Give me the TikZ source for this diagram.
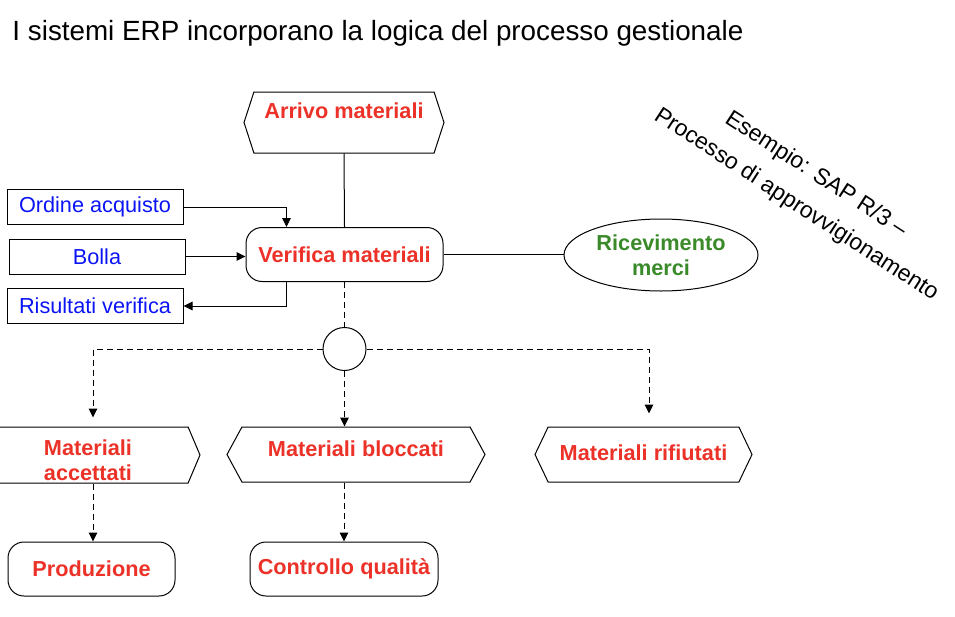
\documentclass[tikz,border=0pt]{standalone}
\usepackage{fontspec}
\setmainfont{Liberation Sans}
\usetikzlibrary{shapes.symbols,shapes.geometric,arrows.meta,positioning}
\tikzset{>={Triangle[length=9pt,width=8.5pt]}}
\definecolor{rosso}{RGB}{236,50,40}
\definecolor{verde}{RGB}{58,138,42}
\definecolor{blu}{RGB}{10,20,245}

\begin{document}
\begin{tikzpicture}[x=1pt,y=-1pt,line width=1pt,
  every node/.style={font=\fontsize{21.7}{25}\selectfont},
  esagono/.style={draw,signal,signal to=west and east,signal pointer angle=#1,inner sep=0pt},
  esagono/.default=135,
  testo/.style={text=rosso,font=\fontsize{21.7}{25}\bfseries,align=center,inner sep=0pt,anchor=north},
  doc/.style={draw,text=blu,minimum width=176pt,minimum height=35pt,inner sep=0pt},
  passo/.style={draw,rounded corners=16pt,text=rosso,font=\fontsize{21.7}{25}\bfseries,inner sep=0pt,minimum height=54pt},
  tratteggio/.style={dash pattern=on 6pt off 4pt}]
\useasboundingbox (0,0) rectangle (955,616);
\clip (0,0) rectangle (955,616);

\node[anchor=base west,font=\fontsize{27.8}{32}\selectfont,inner sep=0pt] (titolo) at (12,40)
  {I sistemi ERP incorporano la logica del processo gestionale};

% eventi (esagoni)
\node[esagono=144,minimum width=200pt,minimum height=61pt,
  label={[testo,yshift=-10.5pt]north:Arrivo materiali}] (arrivo) at (344,122.5) {};
\node[esagono=134,minimum width=224pt,minimum height=56pt,
  label={[testo,yshift=-13pt]north:Materiali\\accettati}] (accettati) at (88,455) {};
\node[esagono=123,minimum width=258pt,minimum height=55pt,
  label={[testo,yshift=-13.5pt]north:Materiali bloccati}] (bloccati) at (356,454.5) {};
\node[esagono=129,minimum width=217pt,minimum height=55pt,
  label={[testo,yshift=-18pt]north:Materiali rifiutati}] (rifiutati) at (643.5,454.5) {};

% funzioni
\node[passo,minimum width=197pt] (verifica) at (344.5,254.5) {Verifica materiali};
\node[passo,minimum width=167pt] (produzione) at (91.5,569) {Produzione};
\node[passo,minimum width=188pt] (controllo) at (344,569) {Controllo qualità};

% documenti
\node[doc] (ordine) at (95,207) {Ordine acquisto};
\node[doc] (bolla) at (97,256.5) {Bolla};
\node[doc] (risultati) at (95,306) {Risultati verifica};

\node[draw,ellipse,minimum width=194pt,minimum height=72pt,inner sep=0pt,
  text=verde,font=\fontsize{21.7}{25}\bfseries,align=center] (ricevimento) at (661,255)
  {Ricevimento\\merci};
\node[draw,circle,minimum size=43pt,inner sep=0pt] (xor) at (344.5,349) {};

\node[rotate=-33,align=center,font=\fontsize{23}{36}\selectfont] (esempio) at (806,190)
  {Esempio: SAP R/3 --\\Processo di approvvigionamento};

% collegamenti
\draw (arrivo.south) -- (verifica.north);
\draw[->] (ordine.east) -| ([xshift=-58pt]verifica.north);
\draw[->] (bolla.east) -- (bolla.east -| verifica.west);
\draw[->] ([xshift=-58pt]verifica.south) |- (risultati.east);
\draw (verifica.east) -- (verifica.east -| ricevimento.west);

\draw[tratteggio] (verifica.south) -- (xor.north);
\draw[tratteggio,->] (xor.west) -| ([xshift=5pt,yshift=9pt]accettati.north);
\draw[tratteggio,->] (xor.south) -- (xor.south |- bloccati.north);
\draw[tratteggio,->] (xor.east) -| ([xshift=5.5pt,yshift=13pt]rifiutati.north);
\draw[tratteggio,->] ([xshift=5pt]accettati.south) -- ([xshift=5pt]accettati.south |- produzione.north);
\draw[tratteggio,->] (controllo.north |- bloccati.south) -- (controllo.north);
\end{tikzpicture}
\end{document}
